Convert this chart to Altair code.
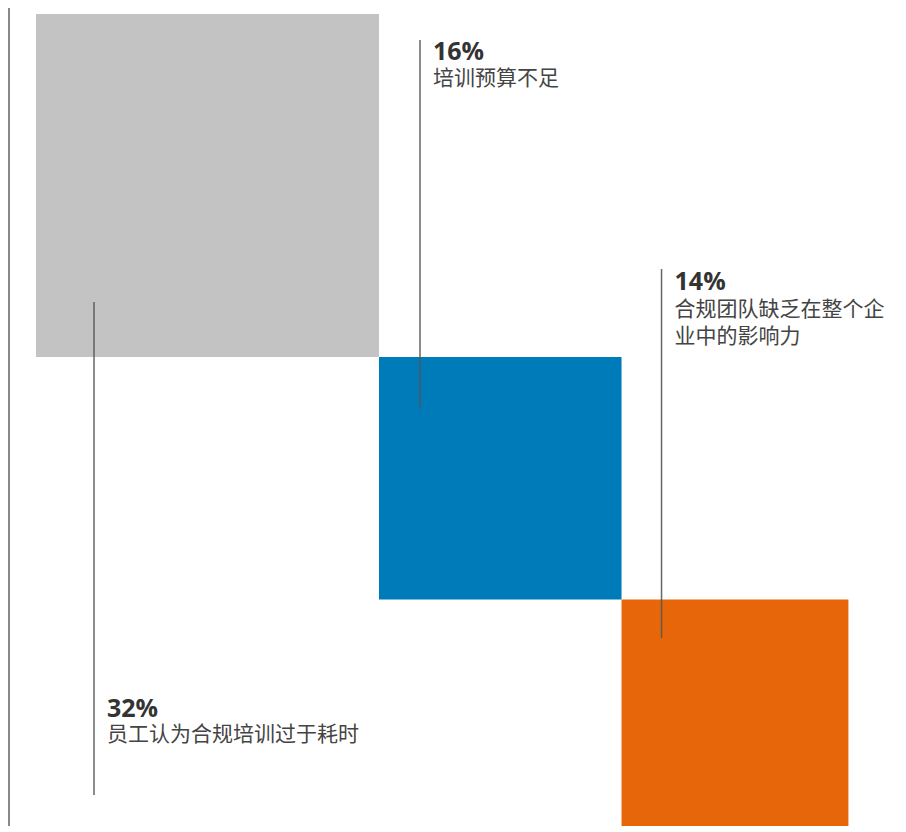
import math
import altair as alt
import pandas as pd

# ---- data ----
values = [32, 16, 14]
pct_labels = ["32%", "16%", "14%"]
labels = ["员工认为合规培训过于耗时", "培训预算不足", "合规团队缺乏在整个企\n业中的影响力"]
colors = ["#c3c3c3", "#007bba", "#e8660a"]

# ---- layout (pixels in plot coordinates) ----
W, H = 890, 818
K = 343 / math.sqrt(32)        # side length per sqrt(value)
X0, Y0 = 28, 6                 # top-left of the first square
# annotation: line x offset from square left, line top, line bottom, pct baseline, label baseline
ann = [
    (58, 294, 787, 709, 733),
    (41, 32, 401, 52, 77),
    (40, 261, 630, 282, 308),
]

rows = []
x, y = X0, Y0
for v, p, lab, c, a in zip(values, pct_labels, labels, colors, ann):
    s = K * math.sqrt(v)
    rows.append(dict(x=x, x2=x + s, y=y, y2=y + s, color=c, pct=p, label=lab,
                     lx=x + a[0], ly1=a[1], ly2=a[2], tx=x + a[0] + 13,
                     py=a[3], labely=a[4]))
    x += s
    y += s
df = pd.DataFrame(rows)

xs = alt.Scale(domain=[0, W], range=[0, W], nice=False, zero=False)
ys = alt.Scale(domain=[0, H], range=[0, H], nice=False, zero=False)
noax = None

squares = alt.Chart(df).mark_rect().encode(
    x=alt.X("x:Q", scale=xs, axis=noax), x2="x2:Q",
    y=alt.Y("y:Q", scale=ys, axis=noax), y2="y2:Q",
    color=alt.Color("color:N", scale=None),
)

lines = alt.Chart(df).mark_rule(color="#555555", strokeWidth=1.5, opacity=0.9).encode(
    x=alt.X("lx:Q", scale=xs, axis=noax),
    y=alt.Y("ly1:Q", scale=ys, axis=noax), y2="ly2:Q",
)

pct = alt.Chart(df).mark_text(
    align="left", baseline="alphabetic", font="Open Sans", fontWeight="bold",
    fontSize=25, color="#333333",
).encode(
    x=alt.X("tx:Q", scale=xs, axis=noax),
    y=alt.Y("py:Q", scale=ys, axis=noax),
    text="pct:N",
)

lab = alt.Chart(df).mark_text(
    align="left", baseline="alphabetic", font="Noto Sans CJK SC",
    fontSize=21, color="#444444", lineBreak="\n", lineHeight=27,
).encode(
    x=alt.X("tx:Q", scale=xs, axis=noax),
    y=alt.Y("labely:Q", scale=ys, axis=noax),
    text="label:N",
)

border = alt.Chart(pd.DataFrame({"a": [0]})).mark_rule(color="#888888", strokeWidth=2).encode(
    x=alt.value(1), y=alt.value(0), y2=alt.value(H),
)

chart = alt.layer(squares, lines, border, pct, lab).properties(
    width=W, height=H, padding=0, autosize=alt.AutoSizeParams(type="none"),
).configure_view(stroke=None)

chart.save("out.html", embed_options={"renderer": "svg", "actions": False})
